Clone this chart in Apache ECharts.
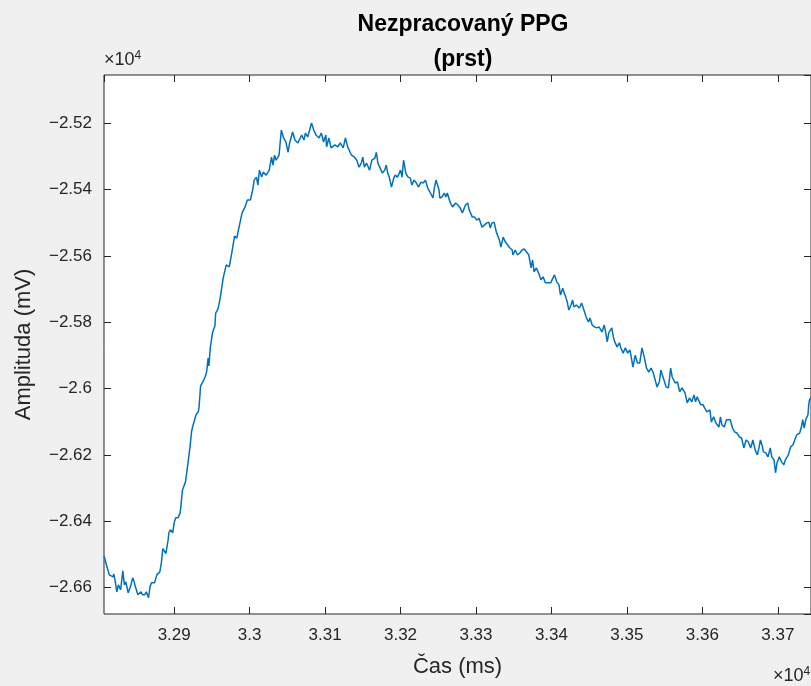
<!DOCTYPE html>
<html>
<head>
<meta charset="utf-8">
<title>Nezpracovaný PPG</title>
<script src="https://cdn.jsdelivr.net/npm/echarts@6/dist/echarts.min.js"></script>
<style>
  html, body { margin: 0; padding: 0; background: #f0f0f0; }
  #chart { width: 811px; height: 686px; }
</style>
</head>
<body>
<div id="chart"></div>
<script>
// cas v ms (osa x)
const timeMs = [
  32807, 32811, 32814, 32819, 32820, 32822, 32824, 32826, 32829, 32832,
  32834, 32836, 32839, 32842, 32845, 32847, 32849, 32852, 32856, 32858,
  32861, 32863, 32866, 32868, 32870, 32872, 32874, 32877, 32879, 32881,
  32883, 32885, 32886, 32889, 32892, 32893, 32895, 32898, 32900, 32902,
  32905, 32908, 32911, 32913, 32915, 32918, 32921, 32923, 32924, 32926,
  32929, 32932, 32933, 32935, 32938, 32941, 32943, 32945, 32946, 32948,
  32951, 32954, 32955, 32958, 32961, 32965, 32969, 32973, 32977, 32980,
  32983, 32986, 32990, 32994, 32997, 33001, 33004, 33006, 33009, 33011,
  33013, 33016, 33018, 33022, 33026, 33029, 33031, 33033, 33035, 33039,
  33042, 33045, 33048, 33051, 33053, 33057, 33060, 33064, 33069, 33072,
  33074, 33077, 33082, 33085, 33088, 33092, 33095, 33098, 33101, 33102,
  33105, 33108, 33113, 33117, 33120, 33124, 33127, 33130, 33135, 33139,
  33142, 33145, 33148, 33150, 33152, 33155, 33159, 33162, 33166, 33168,
  33170, 33173, 33176, 33179, 33181, 33183, 33185, 33188, 33191, 33193,
  33196, 33200, 33202, 33204, 33207, 33210, 33213, 33215, 33218, 33221,
  33224, 33227, 33230, 33233, 33236, 33239, 33243, 33245, 33247, 33251,
  33252, 33255, 33258, 33260, 33262, 33266, 33269, 33273, 33276, 33279,
  33282, 33286, 33289, 33291, 33295, 33298, 33301, 33304, 33308, 33311,
  33314, 33317, 33319, 33321, 33324, 33327, 33331, 33333, 33336, 33339,
  33342, 33345, 33348, 33349, 33352, 33355, 33358, 33361, 33364, 33367,
  33370, 33373, 33375, 33377, 33380, 33384, 33386, 33389, 33392, 33395,
  33399, 33404, 33407, 33410, 33412, 33415, 33417, 33419, 33421, 33423,
  33426, 33428, 33430, 33433, 33437, 33440, 33443, 33446, 33449, 33451,
  33454, 33457, 33460, 33463, 33467, 33470, 33472, 33474, 33476, 33480,
  33482, 33484, 33487, 33490, 33492, 33495, 33498, 33501, 33504, 33506,
  33508, 33511, 33514, 33517, 33520, 33523, 33526, 33529, 33532, 33535,
  33537, 33540, 33543, 33545, 33547, 33550, 33552, 33555, 33558, 33560,
  33564, 33567, 33570, 33573, 33577, 33580, 33583, 33586, 33589, 33591,
  33593, 33595, 33598, 33601, 33603, 33606, 33610, 33612, 33615, 33618,
  33622, 33624, 33626, 33629, 33632, 33634, 33637, 33640, 33643, 33646,
  33649, 33652, 33655, 33658, 33661, 33664, 33667, 33670, 33673, 33675,
  33677, 33679, 33681, 33684, 33687, 33690, 33692, 33695, 33697, 33699,
  33702, 33705, 33708, 33710, 33714, 33717, 33720, 33722, 33725, 33729,
  33731, 33733, 33735, 33737, 33740, 33741, 33742, 33746
]

// amplituda v mV (osa y)
const amplitude = [
  -26505, -26538, -26562, -26568, -26559, -26583, -26613, -26592, -26607, -26550,
  -26592, -26583, -26616, -26598, -26571, -26583, -26601, -26622, -26613, -26622,
  -26622, -26613, -26631, -26598, -26586, -26583, -26586, -26562, -26568, -26553,
  -26526, -26483, -26489, -26498, -26456, -26435, -26426, -26435, -26405, -26390,
  -26390, -26375, -26306, -26300, -26281, -26230, -26176, -26131, -26119, -26125,
  -26079, -26070, -26055, -25992, -25980, -25965, -25950, -25908, -25932, -25874,
  -25829, -25811, -25772, -25760, -25727, -25666, -25627, -25633, -25582, -25540,
  -25546, -25513, -25470, -25452, -25431, -25431, -25401, -25371, -25362, -25386,
  -25341, -25362, -25347, -25356, -25341, -25302, -25326, -25296, -25311, -25296,
  -25220, -25244, -25256, -25287, -25259, -25226, -25250, -25259, -25235, -25250,
  -25229, -25241, -25199, -25220, -25235, -25244, -25229, -25256, -25235, -25271,
  -25244, -25274, -25265, -25271, -25259, -25274, -25244, -25271, -25296, -25302,
  -25311, -25332, -25320, -25302, -25332, -25320, -25341, -25311, -25305, -25287,
  -25320, -25335, -25350, -25341, -25326, -25350, -25362, -25392, -25365, -25356,
  -25362, -25341, -25362, -25311, -25350, -25362, -25365, -25386, -25371, -25380,
  -25392, -25377, -25380, -25371, -25395, -25407, -25425, -25392, -25371, -25401,
  -25425, -25422, -25410, -25422, -25410, -25440, -25452, -25440, -25446, -25455,
  -25470, -25446, -25440, -25461, -25482, -25482, -25492, -25486, -25513, -25507,
  -25501, -25498, -25516, -25501, -25498, -25528, -25552, -25573, -25543, -25558,
  -25567, -25576, -25582, -25597, -25582, -25597, -25591, -25582, -25579, -25588,
  -25597, -25636, -25612, -25648, -25636, -25657, -25672, -25663, -25681, -25681,
  -25681, -25657, -25678, -25687, -25718, -25697, -25712, -25724, -25739, -25763,
  -25748, -25733, -25754, -25748, -25757, -25742, -25763, -25784, -25799, -25787,
  -25808, -25814, -25817, -25814, -25829, -25808, -25832, -25859, -25832, -25817,
  -25844, -25859, -25874, -25862, -25877, -25893, -25877, -25893, -25883, -25908,
  -25935, -25899, -25923, -25923, -25877, -25905, -25938, -25950, -25938, -25953,
  -25959, -25995, -25980, -25944, -25959, -25980, -25995, -25998, -25938, -25965,
  -25983, -25980, -26010, -25998, -26013, -26043, -26028, -26040, -26019, -26040,
  -26025, -26019, -26049, -26049, -26058, -26070, -26064, -26101, -26085, -26104,
  -26116, -26085, -26110, -26116, -26094, -26094, -26094, -26119, -26131, -26134,
  -26146, -26149, -26179, -26155, -26161, -26179, -26155, -26185, -26200, -26179,
  -26155, -26170, -26191, -26194, -26206, -26179, -26206, -26215, -26254, -26224,
  -26206, -26221, -26230, -26215, -26200, -26176, -26170, -26176, -26140, -26134,
  -26119, -26094, -26119, -26094, -26079, -26049, -26034, -26020
]

// rozsah os
const xRange = [32807, 33744]
const yRange = [-26680, -25054]

const axisColor = '#262626'
const font = 'Liberation Sans, Arial, Helvetica, sans-serif'

const chart = echarts.init(document.getElementById('chart'))

// popisky os se zobrazuji v jednotkach 10^4
const fmt = v => {
  const s = String(parseFloat((Math.abs(v) / 10000).toFixed(4)))
  return v < 0 ? '\u2212' + s : s
}

const tickStyle = {
  show: true,
  inside: true,
  length: 7,
  lineStyle: { color: axisColor, width: 1 }
}

const expText = {
  text: '×10{sup|4}',
  fill: axisColor,
  font: '18px ' + font,
  rich: { sup: { fontSize: 12, verticalAlign: 'top', padding: [0, 0, 9, 0] } }
}

const series = timeMs.map((t, i) => [t, amplitude[i]])

chart.setOption({
  animation: false,
  backgroundColor: '#f0f0f0',
  textStyle: { fontFamily: font },
  title: {
    text: 'Nezpracovaný PPG\n(prst)',
    left: 458,
    top: 2,
    textAlign: 'center',
    textStyle: {
      fontFamily: font,
      fontSize: 23,
      fontWeight: 'bold',
      color: '#000',
      lineHeight: 35
    }
  },
  grid: {
    left: 104,
    top: 75,
    right: -1,
    bottom: 72,
    show: true,
    backgroundColor: '#ffffff',
    borderColor: axisColor,
    borderWidth: 1
  },
  xAxis: [
    {
      type: 'value',
      min: xRange[0],
      max: xRange[1],
      splitNumber: 9,
      minInterval: 100,
      maxInterval: 100,
      name: 'Čas (ms)',
      nameLocation: 'middle',
      nameGap: 42,
      nameTextStyle: { fontSize: 22, color: axisColor, fontFamily: font },
      axisLine: { show: false },
      axisTick: tickStyle,
      splitLine: { show: false },
      axisLabel: {
        color: axisColor,
        fontSize: 17,
        margin: 13,
        showMinLabel: false,
        showMaxLabel: false,
        formatter: fmt
      }
    },
    {
      // horni osa jen pro ticky
      type: 'value',
      position: 'top',
      min: xRange[0],
      max: xRange[1],
      splitNumber: 9,
      minInterval: 100,
      maxInterval: 100,
      axisLine: { show: false },
      axisTick: tickStyle,
      axisLabel: { show: false },
      splitLine: { show: false }
    }
  ],
  yAxis: [
    {
      type: 'value',
      min: yRange[0],
      max: yRange[1],
      splitNumber: 8,
      minInterval: 200,
      maxInterval: 200,
      name: 'Amplituda (mV)',
      nameLocation: 'middle',
      nameGap: 69,
      nameTextStyle: { fontSize: 22, color: axisColor, fontFamily: font },
      axisLine: { show: false },
      axisTick: tickStyle,
      splitLine: { show: false },
      axisLabel: {
        color: axisColor,
        fontSize: 17,
        margin: 12,
        showMinLabel: false,
        showMaxLabel: false,
        formatter: fmt
      }
    },
    {
      // prava osa jen pro ticky
      type: 'value',
      position: 'right',
      min: yRange[0],
      max: yRange[1],
      splitNumber: 8,
      minInterval: 200,
      maxInterval: 200,
      axisLine: { show: false },
      axisTick: tickStyle,
      axisLabel: { show: false },
      splitLine: { show: false }
    }
  ],
  graphic: [
    { type: 'text', left: 104, top: 50, style: expText },
    { type: 'text', left: 773, top: 666, style: expText }
  ],
  series: [
    {
      type: 'line',
      xAxisIndex: 0,
      yAxisIndex: 0,
      data: series,
      showSymbol: false,
      clip: true,
      lineStyle: { color: '#0072BD', width: 1.5 },
      itemStyle: { color: '#0072BD' }
    }
  ]
})
</script>
</body>
</html>
